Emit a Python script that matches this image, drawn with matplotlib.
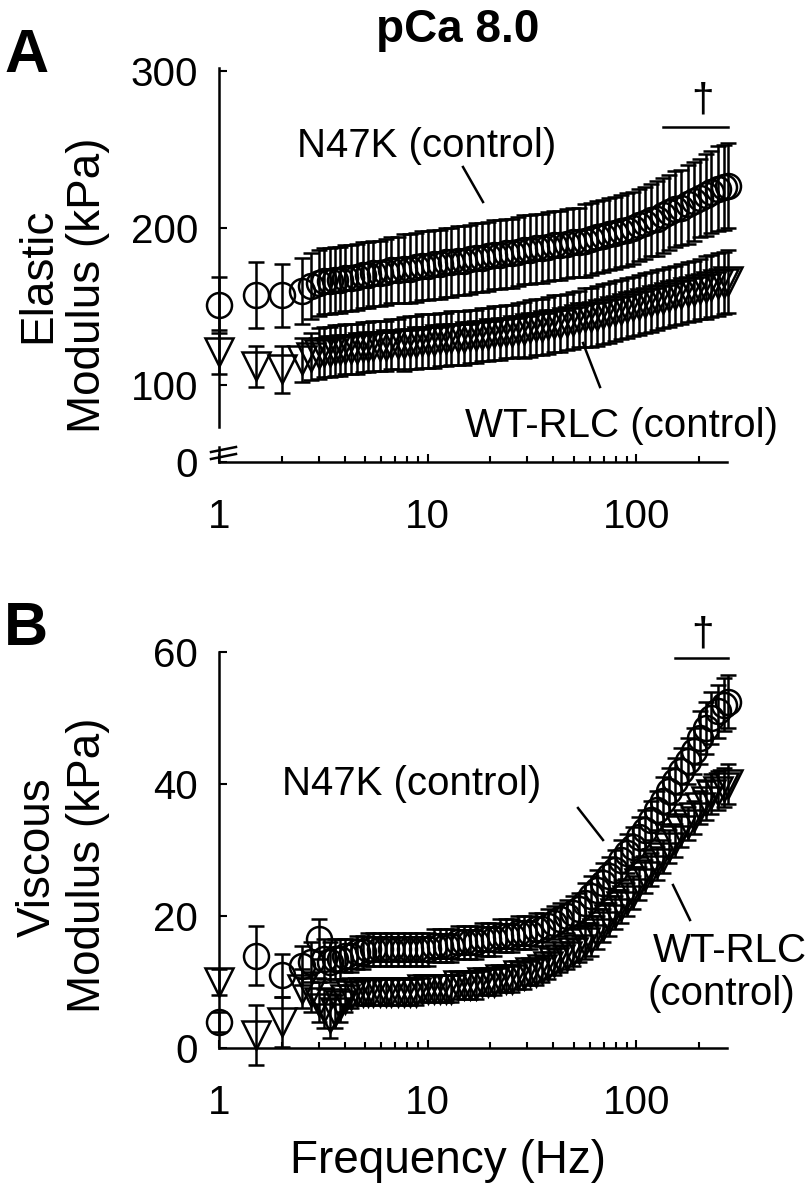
import matplotlib
matplotlib.use("Agg")
import matplotlib.pyplot as plt
from matplotlib.lines import Line2D
from matplotlib.ticker import FixedLocator, NullFormatter, LogLocator

plt.rcParams['font.family'] = ['Liberation Sans', 'DejaVu Sans']

# frequencies (Hz)
freq = [1, 1.5, 2, 2.5, 2.75, 3, 3.2, 3.4, 3.6, 3.8,
        4, 4.3, 4.6, 4.9, 5.2, 5.5, 5.9, 6.3, 6.7, 7.2,
        7.7, 8.2, 8.8, 9.4, 10, 10.7, 11.4, 12.2, 13, 13.9,
        14.9, 15.9, 17, 18.2, 19.4, 20.8, 22.2, 23.7, 25.4, 27.1,
        29, 31, 33.1, 35.4, 37.9, 40.5, 43.3, 46.3, 49.5, 52.9,
        56.5, 60.4, 64.6, 69, 73.8, 78.9, 84.3, 90.1, 96.3, 103,
        110, 118, 126, 134, 144, 154, 164, 176, 188, 201,
        215, 229, 245, 262, 275]

# elastic modulus (kPa)
elastic_n47k = [151, 157, 157, 160, 163, 165, 166, 166, 167, 167,
                168, 168, 169, 170, 170, 171, 171, 172, 173, 173,
                174, 174, 175, 176, 176, 177, 177, 178, 178, 179,
                179, 180, 181, 181, 182, 183, 183, 184, 184, 185,
                186, 186, 187, 187, 188, 189, 189, 190, 191, 191,
                192, 193, 194, 195, 196, 197, 198, 199, 200, 202,
                203, 205, 206, 208, 210, 212, 213, 215, 217, 219,
                221, 223, 225, 226, 227]
elastic_n47k_err = [18, 21, 20, 21, 21, 21, 21, 21, 21, 21,
                    21, 21, 21, 21, 21, 21, 21, 21, 21, 21,
                    22, 22, 22, 22, 22, 22, 22, 22, 22, 22,
                    22, 22, 22, 22, 22, 22, 22, 22, 22, 22,
                    22, 22, 22, 22, 22, 22, 22, 22, 22, 22,
                    23, 23, 23, 23, 23, 23, 23, 23, 23, 23,
                    23, 23, 24, 24, 24, 24, 24, 25, 25, 25,
                    26, 26, 27, 27, 27]
elastic_wt = [121, 112, 110, 116, 118, 120, 121, 121, 122, 122,
              123, 123, 123, 124, 124, 125, 125, 125, 126, 126,
              126, 127, 127, 128, 128, 128, 129, 129, 130, 130,
              130, 131, 131, 132, 132, 133, 133, 134, 134, 135,
              135, 136, 137, 137, 138, 139, 139, 140, 141, 142,
              143, 143, 144, 145, 146, 147, 148, 149, 150, 151,
              152, 153, 154, 155, 156, 157, 158, 159, 160, 161,
              162, 163, 164, 165, 166]
elastic_wt_err = [14, 13, 15, 14, 15, 16, 16, 16, 16, 16,
                  16, 16, 16, 16, 16, 16, 16, 16, 16, 16,
                  17, 17, 17, 17, 17, 17, 17, 17, 17, 17,
                  17, 17, 17, 17, 17, 17, 17, 17, 17, 17,
                  18, 18, 18, 18, 18, 18, 18, 18, 18, 18,
                  19, 19, 19, 19, 19, 19, 19, 19, 19, 19,
                  19, 19, 19, 19, 19, 19, 19, 19, 19, 19,
                  20, 20, 20, 20, 20]

# viscous modulus (kPa)
viscous_n47k = [4, 14, 11, 12.5, 13, 16.5, 13.5, 13, 13.5, 13.5,
                14, 14, 14.5, 14.5, 15, 15, 15, 15, 15, 15,
                15, 15, 15, 15, 15, 15.5, 15.5, 15.5, 15.5, 16,
                16, 16, 16, 16.5, 16.5, 16.5, 17, 17, 17, 17.5,
                17.5, 17.5, 18, 18, 18.5, 19, 19.5, 20, 20.5, 21,
                22, 23, 24, 25, 26, 27, 28.5, 29.5, 30.5, 32,
                33, 34.5, 36, 37.5, 39, 40.5, 42, 43.5, 45, 47,
                48.5, 50, 51, 52, 52.5]
viscous_n47k_err = [1.5, 4.5, 3.3, 3, 3, 3, 3, 3, 3, 3,
                    2.5, 2.5, 2.5, 2.5, 2.5, 2.5, 2.5, 2.5, 2.5, 2.5,
                    2.5, 2.5, 2.5, 2.5, 2.5, 2.5, 2.5, 2.5, 2.5, 2.5,
                    2.5, 2.5, 2.5, 2.5, 2.5, 2.5, 2.5, 2.5, 2.5, 2.5,
                    2.5, 2.5, 2.5, 2.5, 2.5, 2.5, 2.5, 2.5, 2.5, 2.5,
                    3, 3, 3, 3, 3, 3, 3, 3, 3, 3,
                    3, 3, 3, 3.5, 3.5, 3.5, 3.5, 3.5, 3.5, 4,
                    4, 4, 4, 4, 4]
viscous_wt = [10, 2, 4, 9, 8.5, 7, 6, 4.5, 5.5, 6.5,
              7.5, 8, 8.5, 8.5, 8.5, 8.5, 8.5, 8.5, 8.5, 8.5,
              8.5, 8.5, 8.5, 9, 9, 9, 9, 9, 9, 9.5,
              9.5, 9.5, 9.5, 10, 10, 10, 10.5, 10.5, 10.5, 11,
              11, 11.5, 11.5, 12, 12.5, 13, 13.5, 14, 14.5, 15,
              16, 16.5, 17.5, 18.5, 19.5, 20.5, 21.5, 22.5, 23.5, 25,
              26, 27, 28, 29, 30.5, 31.5, 33, 34, 35, 36.5,
              37.5, 38.5, 39, 39.5, 40]
viscous_wt_err = [2, 4.5, 3.8, 3, 3, 3, 3, 3, 2.5, 2.5,
                  2, 2, 2, 2, 2, 2, 2, 2, 2, 2,
                  2, 2, 2, 2, 2, 2, 2, 2, 2, 2,
                  2, 2, 2, 2, 2, 2, 2, 2, 2, 2,
                  2, 2, 2, 2, 2, 2, 2, 2, 2, 2,
                  2.5, 2.5, 2.5, 2.5, 2.5, 2.5, 2.5, 2.5, 2.5, 2.5,
                  2.5, 2.5, 2.5, 2.5, 2.5, 2.5, 2.5, 2.5, 2.5, 2.5,
                  3, 3, 3, 3, 3]

W, H = 808, 1188
fig = plt.figure(figsize=(W / 100, H / 100), dpi=100)


def fx(x):
    return x / W


def fy(y):
    return 1 - y / H


def box(x0, y0, x1, y1):
    return [fx(x0), fy(y1), fx(x1) - fx(x0), fy(y0) - fy(y1)]


XMAX = 272
LW = 1.8
TICKSIZE = 29


def style(ax, show_x):
    for s in ['top', 'right']:
        ax.spines[s].set_visible(False)
    for s in ['left', 'bottom']:
        ax.spines[s].set_linewidth(LW)
    ax.set_xscale('log')
    ax.set_xlim(1, XMAX)
    ax.tick_params(axis='y', which='both', direction='in', width=1.5, length=6,
                   labelsize=TICKSIZE, pad=15)
    ax.tick_params(axis='x', which='major', direction='in', width=1.5, length=6,
                   labelsize=TICKSIZE, pad=26)
    ax.tick_params(axis='x', which='minor', direction='in', width=1.5, length=4)
    ax.xaxis.set_major_locator(FixedLocator([1, 10, 100]))
    ax.xaxis.set_minor_locator(LogLocator(base=10, subs=range(2, 10)))
    ax.xaxis.set_minor_formatter(NullFormatter())
    if show_x:
        ax.set_xticklabels(['1', '10', '100'])
    else:
        ax.spines['bottom'].set_visible(False)
        ax.tick_params(axis='x', which='both', bottom=False, labelbottom=False)


def draw(ax, y, err, marker, ms):
    c = ax.errorbar(freq, y, yerr=err, fmt=marker, mfc='none', mec='k', ms=ms,
                    mew=LW, ecolor='k', elinewidth=1.8, capsize=5.5, capthick=1.8,
                    clip_on=False)
    for art in c.get_children():
        art.set_clip_on(False)


# panel A
ax_a = fig.add_axes(box(219, 68, 727, 427))
ax_a0 = fig.add_axes(box(219, 447, 727, 462))
style(ax_a, False)
style(ax_a0, True)
ax_a.set_ylim(73.2, 301.9)
ax_a.set_yticks([100, 200, 300])
ax_a0.set_ylim(0, 10)
ax_a0.set_yticks([0])
draw(ax_a, elastic_wt, elastic_wt_err, 'v', 20)
draw(ax_a, elastic_n47k, elastic_n47k_err, 'o', 18)

# axis break marks
for yb in (452, 459):
    fig.add_artist(Line2D([fx(211), fx(236)], [fy(yb), fy(yb - 5)],
                          color='k', lw=LW))

# panel B
ax_b = fig.add_axes(box(219, 652, 727, 1048))
style(ax_b, True)
ax_b.set_ylim(0, 60)
ax_b.set_yticks([0, 20, 40, 60])
draw(ax_b, viscous_wt, viscous_wt_err, 'v', 20)
draw(ax_b, viscous_n47k, viscous_n47k_err, 'o', 18)

# texts
fig.text(fx(458), fy(42), 'pCa 8.0', ha='center', va='baseline',
         fontsize=33, fontweight='bold')
fig.text(fx(4), fy(72), 'A', ha='left', va='baseline', fontsize=44, fontweight='bold')
fig.text(fx(4), fy(645), 'B', ha='left', va='baseline', fontsize=44, fontweight='bold')

for xb, yc, s in [(50, 275, 'Elastic'), (100, 285, 'Modulus (kPa)'),
                  (50, 857, 'Viscous'), (100, 865, 'Modulus (kPa)')]:
    fig.text(fx(xb), fy(yc), s, rotation=90, rotation_mode='anchor',
             ha='center', va='baseline', fontsize=33)

fig.text(fx(448), fy(1173), 'Frequency (Hz)', ha='center', va='baseline', fontsize=33)

ANN = 29
fig.text(fx(297), fy(157), 'N47K (control)', ha='left', va='baseline', fontsize=ANN)
fig.text(fx(465), fy(437), 'WT-RLC (control)', ha='left', va='baseline', fontsize=ANN)
fig.text(fx(282), fy(795), 'N47K (control)', ha='left', va='baseline', fontsize=ANN)
fig.text(fx(653), fy(962), 'WT-RLC', ha='left', va='baseline', fontsize=ANN)
fig.text(fx(647), fy(1005), '(control)', ha='left', va='baseline', fontsize=ANN)

pointers = [((463, 167), (483, 202)), ((583, 343), (600, 387)),
            ((578, 808), (603, 840)), ((673, 885), (690, 920)),
            ((663, 127), (728, 127)), ((675, 658), (728, 658))]
for (x0, y0), (x1, y1) in pointers:
    fig.add_artist(Line2D([fx(x0), fx(x1)], [fy(y0), fy(y1)], color='k', lw=LW))

fig.text(fx(702), fy(100), '\u2020', ha='center', va='center', fontsize=29)
fig.text(fx(702), fy(634), '\u2020', ha='center', va='center', fontsize=29)

fig.savefig('out.png', dpi=100)
